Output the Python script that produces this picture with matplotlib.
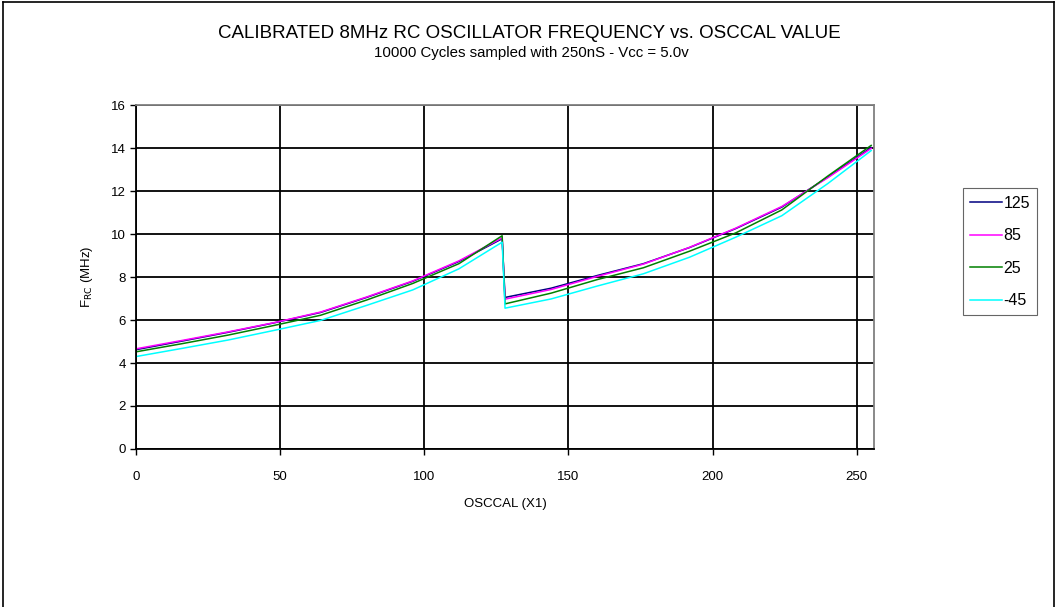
import numpy as np
import matplotlib.pyplot as plt
from matplotlib.lines import Line2D

plt.rcParams['font.family'] = ['Liberation Sans', 'DejaVu Sans']

# OSCCAL sample points and frequency readings (MHz) per temperature
osccal = [0, 16, 32, 48, 64, 80, 96, 112, 127, 128, 144, 160, 176, 192, 208, 224, 240, 255]
f_125 = [4.62, 5.02, 5.43, 5.87, 6.35, 7.05, 7.80, 8.72, 9.78,
         7.05, 7.48, 8.07, 8.62, 9.37, 10.25, 11.25, 12.65, 14.02]
f_85 = [4.66, 5.05, 5.45, 5.88, 6.37, 7.07, 7.82, 8.75, 9.82,
        6.97, 7.42, 8.03, 8.60, 9.38, 10.27, 11.28, 12.62, 13.98]
f_25 = [4.52, 4.90, 5.30, 5.75, 6.22, 6.93, 7.70, 8.62, 9.92,
        6.75, 7.25, 7.88, 8.43, 9.20, 10.05, 11.12, 12.70, 14.12]
f_m45 = [4.30, 4.68, 5.07, 5.52, 5.98, 6.68, 7.40, 8.38, 9.62,
         6.55, 6.98, 7.58, 8.15, 8.92, 9.85, 10.85, 12.35, 13.88]

series = [('125', f_125, '#000080'), ('85', f_85, '#FF00FF'),
          ('25', f_25, '#008000'), ('-45', f_m45, '#00FFFF')]

fig = plt.figure(figsize=(10.57, 6.07), dpi=100)
ax = fig.add_axes([0.1287, 0.2603, 0.6982, 0.5667])

for name, vals, col in series:
    ax.plot(osccal, vals, color=col, lw=1.1, label=name)

ax.set_xlim(0, 256)
ax.set_ylim(0, 16)
ax.set_xticks(np.arange(0, 251, 50))
ax.set_yticks(np.arange(0, 17, 2))
ax.grid(True, color='black', lw=1.3)
ax.set_axisbelow(True)
ax.tick_params(labelsize=9.5, length=4, width=1, colors='black', direction='out')
ax.tick_params(axis='x', pad=12)

for s in ['top', 'right']:
    ax.spines[s].set_color('#808080')
    ax.spines[s].set_linewidth(1.3)
for s in ['left', 'bottom']:
    ax.spines[s].set_color('black')
    ax.spines[s].set_linewidth(1.3)

ax.set_xlabel('OSCCAL (X1)', fontsize=9.5, labelpad=11)
ax.set_ylabel('F$_{\\mathrm{RC}}$ (MHz)', fontsize=9.5, labelpad=11)

fig.text(0.501, 0.945, 'CALIBRATED 8MHz RC OSCILLATOR FREQUENCY vs. OSCCAL VALUE',
         ha='center', va='center', fontsize=13.5)
fig.text(0.503, 0.913, '10000 Cycles sampled with 250nS - Vcc = 5.0v',
         ha='center', va='center', fontsize=10.8)

leg = ax.legend(loc='center left', bbox_to_anchor=(1.12, 0.573), frameon=True,
                fancybox=False, edgecolor='#404040', fontsize=11.5, handlelength=2.0,
                handletextpad=0.1, labelspacing=1.1, borderpad=0.45, borderaxespad=0)
leg.get_frame().set_linewidth(0.8)

# outer chart frame
for xs, ys in [([0.003, 0.003], [0, 0.997]), ([0.003, 0.997], [0.997, 0.997]),
               ([0.997, 0.997], [0, 0.997])]:
    fig.add_artist(Line2D(xs, ys, color='black', lw=1.2, transform=fig.transFigure))

fig.savefig('out.png', dpi=100)
